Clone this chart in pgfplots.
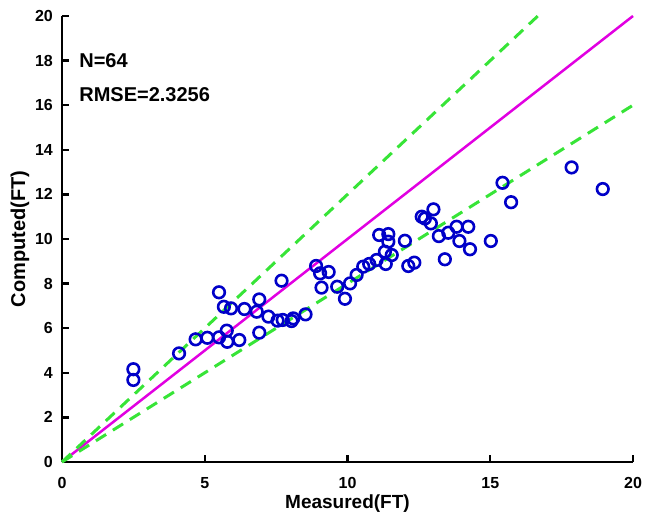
\documentclass[border=0pt]{standalone}
\usepackage{fontspec}
\setmainfont{Liberation Sans}
\usepackage{pgfplots}
\pgfplotsset{compat=1.18}
\definecolor{ptblue}{RGB}{0,0,200}
\definecolor{lnmag}{RGB}{225,0,225}
\definecolor{lngreen}{RGB}{55,228,55}
\begin{document}
\begin{tikzpicture}
\begin{axis}[
  name=ax,
  scale only axis,
  width=571pt, height=446pt,
  xmin=0, xmax=20, ymin=0, ymax=20,
  axis x line*=bottom, axis y line*=left,
  axis line style={-, line width=2.6pt, black},
  xtick={0,5,...,20}, ytick={0,2,...,20},
  tick align=inside,
  major tick length=7pt,
  tick style={line width=2.4pt, black},
  /pgf/number format/assume math mode=true,
  ticklabel style={font=\fontsize{16}{18}\selectfont\bfseries, inner sep=0pt},
  xticklabel style={anchor=base, yshift=-26pt},
  yticklabel style={anchor=east, xshift=-9pt},
  clip=false,
]
\addplot[lnmag, line width=2.5pt] coordinates {(0,0) (20,20)};
\addplot[lngreen, line width=3pt, dash pattern=on 12pt off 8pt] coordinates {(0,0) (16.6667,20)};
\addplot[lngreen, line width=3pt, dash pattern=on 12pt off 8pt] coordinates {(0,0) (20,16)};
\addplot[only marks, mark=o, mark size=5.8pt, mark options={ptblue, line width=2.6pt}] table {
x y
2.50 4.16
2.50 3.68
4.10 4.87
4.68 5.50
5.09 5.57
5.50 7.61
5.50 5.59
5.67 6.96
5.92 6.89
5.77 5.89
5.79 5.39
6.21 5.47
6.39 6.86
6.82 6.74
6.91 7.29
6.91 5.80
7.23 6.52
7.69 8.13
7.55 6.34
7.73 6.37
8.04 6.32
8.10 6.44
8.53 6.62
8.90 8.79
9.04 8.46
9.34 8.52
9.09 7.82
9.64 7.86
9.91 7.32
10.09 8.01
10.32 8.39
10.55 8.76
10.76 8.88
11.02 9.06
11.11 10.18
11.43 10.22
11.43 9.88
11.31 9.43
11.55 9.28
11.34 8.88
12.01 9.92
12.13 8.79
12.34 8.94
12.60 11.00
12.71 10.92
13.01 11.33
12.92 10.70
13.20 10.13
13.53 10.28
13.82 10.55
14.23 10.55
13.92 9.91
14.29 9.54
13.41 9.09
15.02 9.91
15.43 12.52
15.73 11.65
17.85 13.21
18.94 12.24
};
\node[anchor=base west, font=\fontsize{20}{24}\selectfont\bfseries, inner sep=0pt] at (axis cs:0.6,17.67) {N=64};
\node[anchor=base west, font=\fontsize{20}{24}\selectfont\bfseries, inner sep=0pt] at (axis cs:0.6,16.16) {RMSE=2.3256};
\node[anchor=base, font=\fontsize{19}{22}\selectfont\bfseries, inner sep=0pt] at ([yshift=-46pt]rel axis cs:0.5,0) {Measured(FT)};
\node[rotate=90, anchor=center, font=\fontsize{20}{22}\selectfont\bfseries, inner sep=0pt] at ([xshift=-42pt]rel axis cs:0,0.5) {Computed(FT)};
\end{axis}
\pgfresetboundingbox
\path[use as bounding box] ([xshift=-62pt,yshift=-57pt]ax.south west) rectangle ([xshift=12pt,yshift=16pt]ax.north east);
\end{tikzpicture}
\end{document}
